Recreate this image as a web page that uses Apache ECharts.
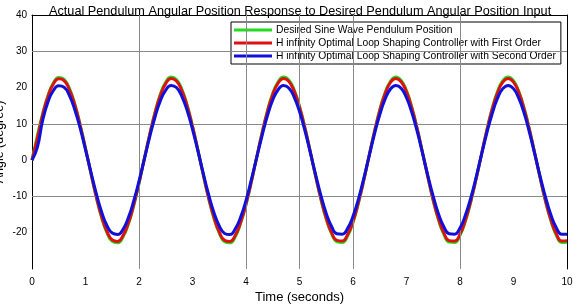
<!DOCTYPE html>
<html>
<head>
<meta charset="utf-8">
<script src="https://cdn.jsdelivr.net/npm/echarts@6/dist/echarts.min.js"></script>
<style>
  html, body { margin: 0; padding: 0; background: #fff; }
  #chart { width: 574px; height: 306px; }
</style>
</head>
<body>
<div id="chart"></div>
<script>
  // time samples (seconds)
  const time = [0,0.1,0.2,0.3,0.4,0.5,0.6,0.7,0.8,0.9,1,1.1,1.2,1.3,1.4,1.5,1.6,1.7,1.8,1.9,
    2,2.1,2.2,2.3,2.4,2.5,2.6,2.7,2.8,2.9,3,3.1,3.2,3.3,3.4,3.5,3.6,3.7,3.8,3.9,
    4,4.1,4.2,4.3,4.4,4.5,4.6,4.7,4.8,4.9,5,5.1,5.2,5.3,5.4,5.5,5.6,5.7,5.8,5.9,
    6,6.1,6.2,6.3,6.4,6.5,6.6,6.7,6.8,6.9,7,7.1,7.2,7.3,7.4,7.5,7.6,7.7,7.8,7.9,
    8,8.1,8.2,8.3,8.4,8.5,8.6,8.7,8.8,8.9,9,9.1,9.2,9.3,9.4,9.5,9.6,9.7,9.8,9.9,10]

  // desired sine wave (degree)
  const desired = [0,6.8,12.9,17.9,21.3,22.8,22.3,19.8,15.5,9.8,3.2,-3.6,-10.1,-15.8,-20.0,-22.4,-22.8,-21.2,-17.7,-12.6,
    -6.4,0.4,7.1,13.2,18.2,21.5,22.9,22.2,19.6,15.2,9.4,2.9,-4.0,-10.5,-16.0,-20.1,-22.5,-22.8,-21.1,-17.4,
    -12.3,-6.0,0.8,7.5,13.6,18.4,21.6,22.9,22.1,19.4,14.9,9.1,2.5,-4.4,-10.8,-16.3,-20.3,-22.5,-22.7,-20.9,
    -17.2,-12.0,-5.7,1.2,7.9,13.9,18.6,21.7,22.9,22.0,19.2,14.6,8.7,2.1,-4.7,-11.2,-16.6,-20.5,-22.6,-22.7,
    -20.7,-16.9,-11.6,-5.3,1.5,8.2,14.2,18.9,21.9,22.9,21.9,18.9,14.3,8.4,1.7,-5.1,-11.5,-16.8,-20.7,-22.7,-22.6]

  // H infinity, first order controller
  const firstOrder = [0,6.0,12.5,17.6,21.0,22.4,21.9,19.4,15.2,9.6,3.2,-3.5,-10.0,-15.5,-19.6,-22.0,-22.4,-20.8,-17.4,-12.4,
    -6.3,0.4,7.0,13.0,17.9,21.1,22.5,21.8,19.2,14.9,9.3,2.8,-3.9,-10.3,-15.7,-19.8,-22.1,-22.4,-20.7,-17.1,
    -12.1,-5.9,0.8,7.4,13.3,18.1,21.2,22.5,21.7,19.0,14.6,8.9,2.4,-4.3,-10.6,-16.0,-20.0,-22.1,-22.3,-20.5,
    -16.9,-11.7,-5.6,1.1,7.7,13.6,18.3,21.4,22.5,21.6,18.8,14.3,8.6,2.0,-4.7,-11.0,-16.3,-20.1,-22.2,-22.3,
    -20.4,-16.6,-11.4,-5.2,1.5,8.1,13.9,18.5,21.5,22.5,21.5,18.6,14.0,8.2,1.7,-5.0,-11.3,-16.5,-20.3,-22.3,-22.2]

  // H infinity, second order controller
  const secondOrder = [0,3.5,11.0,16.1,19.2,20.5,20.1,17.8,13.9,8.8,2.9,-3.2,-9.1,-14.2,-18.0,-20.1,-20.5,-19.1,-15.9,-11.3,
    -5.8,0.3,6.4,11.9,16.4,19.3,20.6,20.0,17.6,13.7,8.5,2.6,-3.6,-9.4,-14.4,-18.1,-20.2,-20.5,-18.9,-15.7,
    -11.1,-5.4,0.7,6.7,12.2,16.6,19.4,20.6,19.9,17.4,13.4,8.2,2.2,-3.9,-9.7,-14.7,-18.3,-20.3,-20.4,-18.8,
    -15.5,-10.8,-5.1,1.0,7.1,12.5,16.8,19.6,20.6,19.8,17.2,13.1,7.9,1.9,-4.3,-10.0,-14.9,-18.4,-20.3,-20.4,
    -18.7,-15.2,-10.5,-4.8,1.4,7.4,12.7,17.0,19.7,20.6,19.7,17.0,12.9,7.5,1.5,-4.6,-10.3,-15.1,-18.6,-20.4,-20.4]

  const names = [
    "Desired Sine Wave Pendulum Position",
    "H infinity Optimal Loop Shaping Controller with First Order",
    "H infinity Optimal Loop Shaping Controller with Second Order",
  ]
  const colors = ["#22dd22", "#e01010", "#1010d8"]

  // grid lines as drawn in the original figure
  const gridX = [2, 4, 5, 6, 8]
  const gridY = [30, 10, -10]

  const font = "Liberation Sans, Arial, sans-serif"
  const pairs = (ys) => time.map((t, i) => [t, ys[i]])

  const chart = echarts.init(document.getElementById("chart"), null, { renderer: "canvas" })

  const lineSeries = [desired, firstOrder, secondOrder].map((ys, i) => ({
    name: names[i],
    type: "line",
    data: pairs(ys),
    smooth: true,
    showSymbol: false,
    symbol: "none",
    z: 3 + i,
    lineStyle: { color: colors[i], width: 3 },
    itemStyle: { color: colors[i] },
  }))

  const option = {
    animation: false,
    backgroundColor: "#fff",
    title: {
      text: "Actual Pendulum Angular Position Response to Desired Pendulum Angular Position Input",
      left: 44,
      top: 0,
      textStyle: { fontFamily: font, fontSize: 12.7, fontWeight: "normal", color: "#000" },
    },
    grid: { left: 32, right: 7, top: 15, bottom: 37, outerBoundsMode: "none" },
    legend: {
      data: names,
      orient: "vertical",
      left: 231,
      top: 22,
      padding: [3, 5, 3, 3],
      itemGap: 3,
      itemWidth: 38,
      itemHeight: 3,
      icon: "rect",
      backgroundColor: "#fff",
      borderColor: "#000",
      borderWidth: 1,
      borderRadius: 0,
      textStyle: { fontFamily: font, fontSize: 10.3, color: "#000", padding: [0, 0, 0, -1] },
    },
    xAxis: [
      {
        type: "value",
        min: 0,
        max: 10,
        interval: 1,
        name: "Time (seconds)",
        nameLocation: "middle",
        nameGap: 22,
        nameMoveOverlap: false,
        nameTextStyle: { fontFamily: font, fontSize: 13, color: "#000" },
        axisLine: { show: false, onZero: false },
        axisTick: { show: false },
        splitLine: { show: false },
        axisLabel: { fontFamily: font, fontSize: 10, color: "#000", margin: 8 },
      },
      {
        type: "value",
        min: 0,
        max: 10,
        position: "top",
        axisLine: { show: true, onZero: false, lineStyle: { color: "#000", width: 1 } },
        axisTick: { show: false },
        axisLabel: { show: false },
        splitLine: { show: false },
      },
    ],
    yAxis: [
      {
        type: "value",
        min: -30,
        max: 40,
        interval: 10,
        name: "Angle (degree)",
        nameLocation: "middle",
        nameGap: 26,
        nameMoveOverlap: false,
        nameTextStyle: { fontFamily: font, fontSize: 12.5, color: "#000" },
        axisLine: { show: true, onZero: false, lineStyle: { color: "#000", width: 1 } },
        axisTick: { show: false },
        splitLine: { show: false },
        axisLabel: {
          fontFamily: font,
          fontSize: 10,
          color: "#000",
          margin: 5,
          formatter: (v) => (v === -30 ? "" : String(v)),
        },
      },
      {
        type: "value",
        min: -30,
        max: 40,
        position: "right",
        axisLine: { show: true, onZero: false, lineStyle: { color: "#000", width: 1 } },
        axisTick: { show: false },
        axisLabel: { show: false },
        splitLine: { show: false },
      },
    ],
    series: [
      {
        name: "grid",
        type: "line",
        data: [],
        z: 1,
        silent: true,
        markLine: {
          silent: true,
          symbol: "none",
          label: { show: false },
          lineStyle: { color: "#8a8a8a", width: 1, type: "solid" },
          data: gridX.map((v) => ({ xAxis: v })).concat(gridY.map((v) => ({ yAxis: v }))),
        },
      },
      ...lineSeries,
    ],
  }
  chart.setOption(option)
</script>
</body>
</html>
